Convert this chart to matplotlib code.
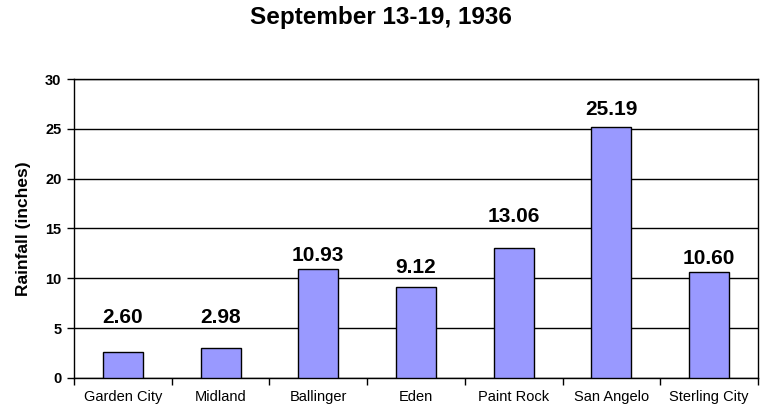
import matplotlib
matplotlib.use('Agg')
import matplotlib.pyplot as plt
import numpy as np

plt.rcParams['font.family'] = ['Liberation Sans', 'DejaVu Sans']

# rainfall totals by station
stations = ['Garden City', 'Midland', 'Ballinger', 'Eden',
            'Paint Rock', 'San Angelo', 'Sterling City']
rainfall = [2.60, 2.98, 10.93, 9.12, 13.06, 25.19, 10.60]
label_y = [6.1, 6.1, 12.3, 11.1, 16.2, 26.9, 12.0]
y_ticks = [0, 5, 10, 15, 20, 25, 30]


def main():
    fig = plt.figure(figsize=(7.66, 4.18), dpi=100)
    ax = fig.add_axes([0.0966, 0.0957, 0.893, 0.7153])

    x = np.arange(len(stations))
    ax.bar(x, rainfall, width=0.41, color='#9999FF',
           edgecolor='black', linewidth=1, zorder=3)

    for xi, val, ly in zip(x, rainfall, label_y):
        ax.text(xi, ly, '{0:.2f}'.format(val), ha='center', va='center',
                fontsize=15, fontweight='bold', zorder=4)

    ax.set_xlim(-0.5, len(stations) - 0.5)
    ax.set_ylim(0, 30)
    ax.set_yticks(y_ticks)
    ax.yaxis.grid(True, color='black', linewidth=1, zorder=0)
    ax.set_axisbelow(True)

    ax.set_xticks(x)
    ax.set_xticklabels(stations, fontsize=10.5)
    ax.set_xticks(np.arange(-0.5, len(stations)), minor=True)
    ax.tick_params(axis='x', which='major', length=0, pad=9)
    ax.tick_params(axis='x', which='minor', length=5, width=1,
                   direction='out', color='black')
    ax.tick_params(axis='y', length=5, width=1, direction='out', pad=4)
    for lab in ax.get_yticklabels():
        lab.set_fontsize(10.5)
        lab.set_fontweight('bold')

    for sp in ax.spines.values():
        sp.set_color('black')
        sp.set_linewidth(1)

    ax.set_ylabel('Rainfall (inches)', fontsize=12.5, fontweight='bold',
                  labelpad=10)

    fig.text(0.497, 0.957, 'September 13-19, 1936', ha='center',
             va='center', fontsize=17.5, fontweight='bold')

    fig.savefig('out.png', dpi=100)
    plt.close(fig)


if __name__ == "__main__":
    main()
